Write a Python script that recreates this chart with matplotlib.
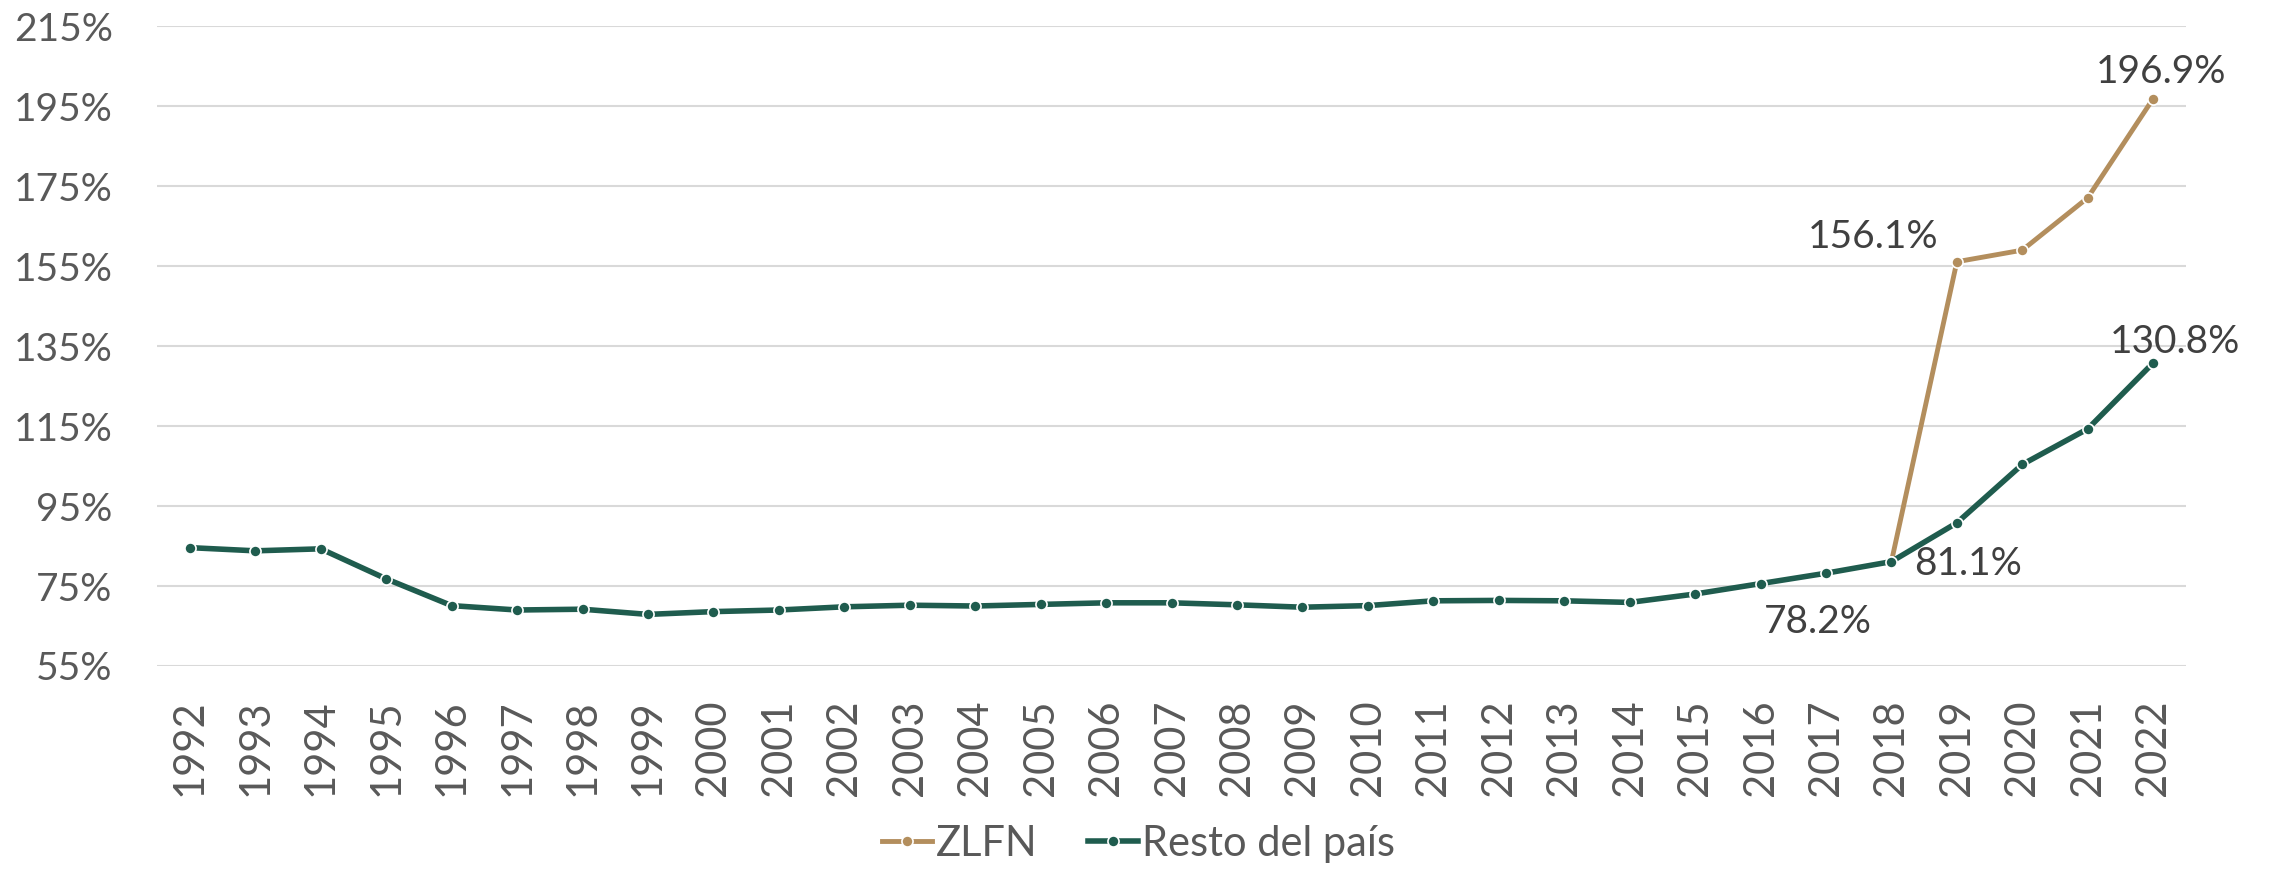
import matplotlib.pyplot as plt

# Data
years = list(range(1992, 2023))
resto = [84.6, 83.8, 84.3, 76.8, 70.1, 69.0, 69.2, 67.9, 68.6, 69.0,
         69.8, 70.2, 70.0, 70.4, 70.8, 70.8, 70.3, 69.7, 70.1, 71.3,
         71.4, 71.3, 70.9, 73.0, 75.6, 78.2, 81.1, 90.8, 105.4, 114.3, 130.8]
zlfn_years = [2018, 2019, 2020, 2021, 2022]
zlfn = [81.1, 156.1, 159.0, 172.1, 196.9]
yticks = [55, 75, 95, 115, 135, 155, 175, 195, 215]

gold = '#B38E5D'
green = '#1F5C4E'
txt = '#404040'
tick_col = '#595959'
fs = 28

plt.rcParams['font.family'] = ['Lato', 'DejaVu Sans']

fig = plt.figure(figsize=(22.77, 8.74), dpi=100)
ax = fig.add_axes([0.069, 0.238, 0.891, 0.732])

ax.plot(zlfn_years, zlfn, color=gold, lw=3.5, marker='o', ms=8,
        mec='white', mew=1.2, label='ZLFN', zorder=3)
ax.plot(years, resto, color=green, lw=4, marker='o', ms=8,
        mec='white', mew=1.2, label='Resto del país', zorder=4)

# Data labels
lab = dict(fontsize=fs, color=txt, textcoords='offset points')
ax.annotate('196.9%', (2022, zlfn[-1]), xytext=(6, 6), ha='center', va='bottom', **lab)
ax.annotate('156.1%', (2019, zlfn[1]), xytext=(-13, 5), ha='right', va='bottom', **lab)
ax.annotate('130.8%', (2022, resto[-1]), xytext=(16, 2), ha='center', va='bottom', **lab)
ax.annotate('81.1%', (2018, resto[26]), xytext=(16, -2), ha='left', va='center', **lab)
ax.annotate('78.2%', (2017, resto[25]), xytext=(-6, -22), ha='center', va='top', **lab)

ax.set_xlim(1991.5, 2022.5)
ax.set_ylim(55, 215)
ax.set_yticks(yticks)
ax.set_yticklabels([f'{v}%' for v in yticks])
ax.set_xticks(years)
ax.set_xticklabels([str(y) for y in years], rotation=90)
ax.tick_params(axis='both', length=0, labelsize=fs, labelcolor=tick_col)
ax.tick_params(axis='x', labelsize=fs + 2, pad=24)
ax.tick_params(axis='y', pad=32)

ax.grid(axis='y', color='#D9D9D9', lw=1.5)
ax.set_axisbelow(True)
for s in ax.spines.values():
    s.set_visible(False)

leg = fig.legend(loc='lower center', bbox_to_anchor=(0.5, -0.03), ncol=2,
                 frameon=False, fontsize=fs + 2, handlelength=1.2,
                 handletextpad=0.1, columnspacing=1.2)
for t in leg.get_texts():
    t.set_color(tick_col)

fig.savefig('out.png', dpi=100)
